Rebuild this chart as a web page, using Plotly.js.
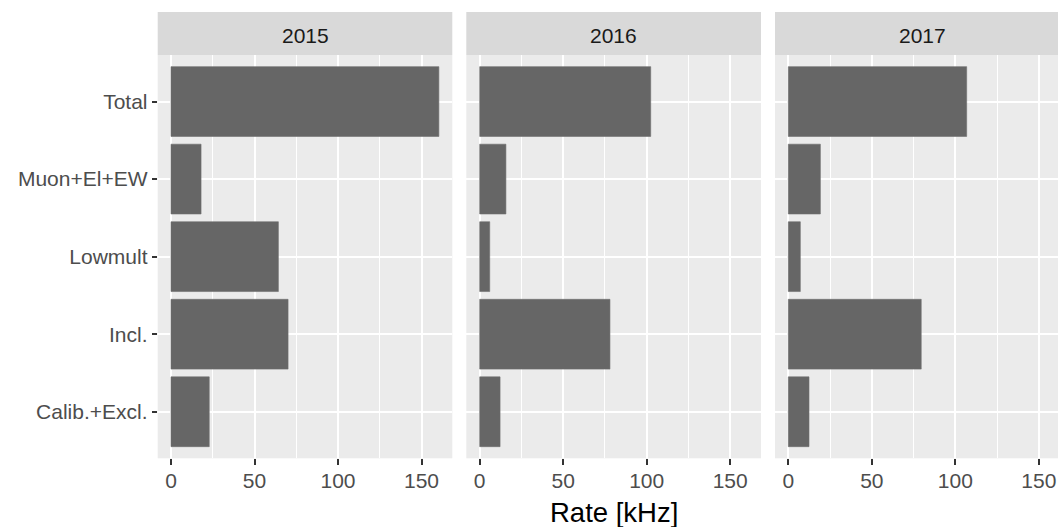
<!DOCTYPE html>
<html>
<head>
<meta charset="utf-8">
<script src="https://cdn.plot.ly/plotly-3.0.1.min.js"></script>
<style>
html,body{margin:0;padding:0;background:#fff;overflow:hidden;}
#chart{width:1058px;height:527px;}
</style>
</head>
<body>
<div id="chart"></div>
<script>
// ---- data ----
const categories = ['Total', 'Muon+El+EW', 'Lowmult', 'Incl.', 'Calib.+Excl.'];
const years = ['2015', '2016', '2017'];
const rate2015 = [160.4, 18.0, 64.3, 70.1, 22.9];
const rate2016 = [102.4, 15.7, 6.0, 78.0, 12.2];
const rate2017 = [106.8, 19.2, 7.2, 79.6, 12.4];
const xTickVals = [0, 50, 100, 150];
const xTitle = 'Rate [kHz]';

const W = 1058, H = 527;
const FONT = 'Liberation Sans, Arial, Helvetica, sans-serif';
const seriesList = [rate2015, rate2016, rate2017];
const axSuffix = ['', '2', '3'];

// panel geometry (pixels)
const panels = [[157.7, 452.3], [466.3, 761.0], [775.0, 1058]];
const panelTop = 55, panelBottom = 458.3, stripTop = 12;
const pxPerUnit = 1.67;
const zeroPx = [171.0, 479.7, 788.3];

const traces = seriesList.map((vals, i) => ({
  type: 'bar',
  orientation: 'h',
  y: categories,
  x: vals,
  width: 0.9,
  xaxis: 'x' + axSuffix[i],
  yaxis: 'y' + axSuffix[i],
  marker: {color: '#666666', line: {color: '#6e6e6e', width: 0.6}},
  hoverinfo: 'x+y',
  showlegend: false
}));

const layout = {
  width: W, height: H,
  margin: {l: 0, r: 0, t: 0, b: 0, pad: 0},
  paper_bgcolor: '#ffffff',
  plot_bgcolor: '#EBEBEB',
  font: {family: FONT, size: 21, color: '#4D4D4D'},
  showlegend: false,
  bargap: 0,
  shapes: [],
  annotations: []
};

const yDom = [1 - panelBottom / H, 1 - panelTop / H];
panels.forEach((p, i) => {
  const lo = (p[0] - zeroPx[i]) / pxPerUnit;
  const hi = (p[1] - zeroPx[i]) / pxPerUnit;
  layout['xaxis' + axSuffix[i]] = {
    domain: [p[0] / W, p[1] / W],
    anchor: 'y' + axSuffix[i],
    range: [lo, hi],
    tickvals: xTickVals,
    ticktext: xTickVals.map(String),
    ticks: 'outside', ticklen: 6, tickwidth: 2, tickcolor: '#333333',
    ticklabelstandoff: -3,
    tickfont: {family: FONT, size: 21, color: '#4D4D4D'},
    showgrid: true, gridcolor: '#ffffff', gridwidth: 2,
    minor: {dtick: 25, tick0: 0, showgrid: true, gridcolor: '#ffffff', gridwidth: 1, ticks: ''},
    zeroline: false, showline: false, fixedrange: true
  };
  layout['yaxis' + axSuffix[i]] = {
    domain: yDom,
    anchor: 'x' + axSuffix[i],
    type: 'category',
    categoryorder: 'array',
    categoryarray: categories.slice().reverse(),
    range: [-0.6, 4.6],
    ticks: i === 0 ? 'outside' : '',
    ticklen: 5, tickwidth: 2, tickcolor: '#333333',
    showticklabels: i === 0,
    tickfont: {family: FONT, size: 21, color: '#4D4D4D'},
    showgrid: true, gridcolor: '#ffffff', gridwidth: 2,
    zeroline: false, showline: false, fixedrange: true
  };
  // facet strip
  layout.shapes.push({
    type: 'rect', xref: 'paper', yref: 'paper',
    x0: p[0] / W, x1: p[1] / W,
    y0: 1 - panelTop / H, y1: 1 - stripTop / H,
    fillcolor: '#D9D9D9', line: {width: 0}, layer: 'below'
  });
  const fullRight = i === 2 ? p[0] + (panels[0][1] - panels[0][0]) : p[1];
  layout.annotations.push({
    xref: 'paper', yref: 'paper',
    x: Math.min((p[0] + fullRight) / 2, W) / W,
    y: 1 - ((panelTop + stripTop) / 2 + 1.5) / H,
    xanchor: 'center', yanchor: 'middle',
    text: years[i], showarrow: false,
    font: {family: FONT, size: 21, color: '#1A1A1A'}
  });
});

layout.annotations.push({
  xref: 'paper', yref: 'paper',
  x: ((panels[0][0] + panels[0][0] + 3 * 294.6 + 2 * 14) / 2) / W,
  y: 1 - 512 / H,
  xanchor: 'center', yanchor: 'middle',
  text: xTitle, showarrow: false,
  font: {family: FONT, size: 27.5, color: '#000000'}
});

Plotly.newPlot('chart', traces, layout, {displayModeBar: false, staticPlot: true});
</script>
</body>
</html>
